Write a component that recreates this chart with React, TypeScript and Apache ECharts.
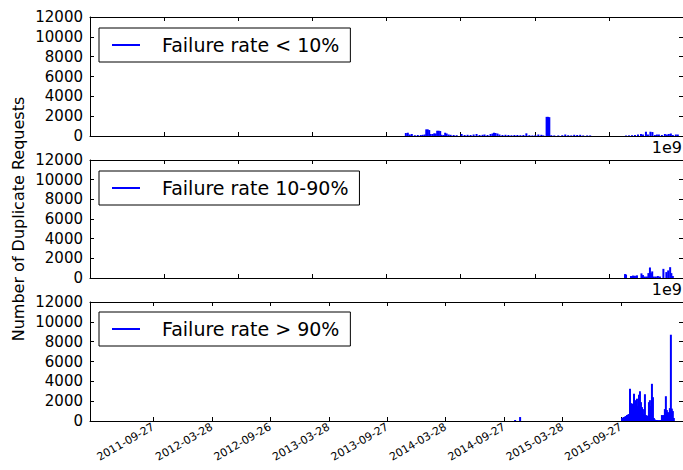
import React, { useEffect, useRef } from "react";
import * as echarts from "echarts";

// ---- data (times in millions of epoch seconds) ----
const seriesNames = ["Failure rate < 10%", "Failure rate 10-90%", "Failure rate > 90%"];

const xMinSec = 1.3e9;
const xMaxSec = 1.46e9;
const xStepSec = 0.02e9;
const yMax = 12000;
const yStep = 2000;

const dateTicks = [
  "2011-09-27", "2012-03-28", "2012-09-26", "2013-03-28", "2013-09-27",
  "2014-03-28", "2014-09-27", "2015-03-28", "2015-09-27",
];

const lowTimes = [
  1385.22, 1385.75, 1386.29, 1386.83, 1387.64, 1388.44, 1389.25, 1389.79, 1390.32, 1390.73,
  1391.13, 1391.53, 1391.94, 1392.47, 1392.88, 1393.28, 1393.68, 1394.09, 1394.49, 1394.89,
  1395.43, 1395.83, 1396.24, 1396.78, 1397.31, 1398.12, 1398.93, 1400.27, 1401.08, 1401.88,
  1402.69, 1403.5, 1404.3, 1405.11, 1405.91, 1406.45, 1407.26, 1408.07, 1408.6, 1409.01,
  1409.41, 1409.95, 1410.49, 1411.29, 1412.1, 1412.9, 1413.71, 1414.52, 1415.32, 1416.13,
  1416.94, 1417.74, 1418.55, 1419.36, 1420.16, 1420.97, 1421.78, 1422.31, 1423.2, 1423.58,
  1423.93, 1424.46, 1425.27, 1426.35, 1427.42, 1428.23, 1429.03, 1429.84, 1430.65, 1431.45,
  1432.26, 1433.07, 1434.14, 1434.95, 1444.63, 1445.43, 1446.24, 1447.04, 1447.85, 1448.66,
  1449.2, 1450.0, 1450.54, 1451.21, 1451.75, 1452.42, 1452.96, 1453.5, 1454.3, 1455.11,
  1455.65, 1456.18, 1456.72, 1457.26, 1458.07, 1458.6,
];
const lowCounts = [
  300, 330, 150, 200, 80, 100, 100, 120, 150, 670,
  670, 600, 200, 200, 270, 250, 530, 530, 500, 120,
  100, 330, 250, 150, 120, 100, 80, 200, 100, 120,
  100, 150, 200, 100, 120, 150, 100, 200, 250, 330,
  300, 250, 150, 100, 120, 100, 80, 100, 100, 80,
  100, 270, 80, 60, 80, 150, 120, 60, 1930, 1930,
  1900, 80, 60, 60, 80, 150, 80, 60, 120, 100,
  120, 60, 60, 60, 50, 60, 80, 100, 150, 200,
  150, 430, 150, 430, 400, 100, 150, 150, 100, 200,
  150, 200, 250, 100, 150, 150,
];

const midTimes = [
  1444.36, 1444.63, 1445.97, 1446.51, 1447.04, 1447.58, 1448.79, 1449.2, 1449.73, 1450.27,
  1450.67, 1451.08, 1451.35, 1451.69, 1452.15, 1452.69, 1453.23, 1453.77, 1454.71, 1455.51,
  1456.0, 1456.53, 1456.86, 1457.26,
];
const midCounts = [
  400, 350, 200, 250, 230, 270, 470, 300, 150, 150,
  500, 1070, 500, 670, 150, 150, 200, 150, 930, 600,
  770, 1100, 500, 200,
];

const highTimes = [
  1414.7, 1416.05,
  1443.55, 1443.82, 1444.09, 1444.36, 1444.63, 1444.89, 1445.16, 1445.43, 1445.7, 1445.97,
  1446.24, 1446.51, 1446.78, 1447.05, 1447.31, 1447.58, 1447.85, 1448.12, 1448.39, 1448.66,
  1448.93, 1449.2, 1449.47, 1449.73, 1450.0, 1450.27, 1450.54, 1450.81, 1451.08, 1451.35,
  1451.62, 1451.89, 1452.15, 1452.42, 1452.69, 1452.96, 1453.23, 1453.5, 1453.77, 1454.04,
  1454.31, 1454.57, 1454.84, 1455.11, 1455.38, 1455.65, 1455.92, 1456.19, 1456.46, 1456.73,
  1456.99, 1457.26, 1457.53,
];
const highCounts = [
  100, 400,
  300, 350, 400, 450, 500, 600, 650, 700, 3250, 1800,
  1500, 1750, 2750, 1900, 2100, 2250, 1500, 2650, 3000, 1900,
  1400, 1200, 700, 2700, 600, 500, 550, 1900, 2100, 1500,
  3750, 2400, 300, 150, 100, 100, 80, 80, 80, 100,
  600, 550, 600, 1200, 2500, 1100, 900, 800, 1300, 8700,
  1250, 1000, 300,
];

const allTimes = [lowTimes, midTimes, highTimes];
const allCounts = [lowCounts, midCounts, highCounts];

// ---- layout ----
const grids = [
  { top: 17, height: 119 },
  { top: 160, height: 118 },
  { top: 302, height: 119 },
];
const FONT = "DejaVu Sans";

export default function App() {
  const ref = useRef<HTMLDivElement>(null);

  useEffect(() => {
    if (!ref.current) return;
    const chart = echarts.init(ref.current, undefined, { renderer: "svg" });

    const dateSecs = dateTicks.map((d) => Date.parse(d + "T00:00:00Z") / 1000);
    const fmtDate = (v: number) => new Date(Math.round(v) * 1000).toISOString().slice(0, 10);

    const axisLine = { show: true, onZero: false, lineStyle: { color: "#000", width: 1 } };
    const tick = { show: true, inside: true, length: 4, lineStyle: { color: "#000", width: 1 } };

    const xAxis: any[] = [];
    const yAxis: any[] = [];
    grids.forEach((_, i) => {
      const isBottom = i === 2;
      const base: any = {
        type: "value",
        gridIndex: i,
        min: xMinSec,
        max: xMaxSec,
        axisLine,
        splitLine: { show: false },
      };
      if (isBottom) {
        xAxis.push({
          ...base,
          position: "bottom",
          axisTick: { ...tick, customValues: dateSecs },
          axisLabel: {
            show: true,
            customValues: dateSecs,
            formatter: (v: number) => fmtDate(v),
            rotate: 30,
            fontSize: 11,
            fontFamily: FONT,
            color: "#000",
            margin: 5,
          },
        });
        xAxis.push({
          ...base,
          position: "top",
          axisTick: { ...tick, customValues: dateSecs },
          axisLabel: { show: false, customValues: dateSecs },
        });
      } else {
        xAxis.push({ ...base, interval: xStepSec, position: "bottom", axisTick: tick, axisLabel: { show: false } });
        xAxis.push({ ...base, interval: xStepSec, position: "top", axisTick: tick, axisLabel: { show: false } });
      }
      const yBase: any = {
        type: "value",
        gridIndex: i,
        min: 0,
        max: yMax,
        interval: yStep,
        axisLine,
        axisTick: tick,
        splitLine: { show: false },
      };
      yAxis.push({
        ...yBase,
        position: "left",
        axisLabel: {
          show: true,
          fontSize: 15,
          fontFamily: FONT,
          color: "#000",
          margin: 7,
          formatter: (v: number) => String(v),
        },
      });
      yAxis.push({ ...yBase, position: "right", axisLabel: { show: false } });
    });

    const series = seriesNames.map((name, i) => ({
      type: "bar",
      name,
      xAxisIndex: 2 * i,
      yAxisIndex: 2 * i,
      barWidth: 2,
      itemStyle: { color: "#0000ff" },
      data: allTimes[i].map((t, k) => [t * 1e6, allCounts[i][k]]),
    }));

    const legend = seriesNames.map((name, i) => ({
      data: [name],
      left: 99,
      top: grids[i].top + (i === 2 ? 10 : 11),
      orient: "horizontal",
      icon: "rect",
      itemWidth: 28,
      itemHeight: 2,
      padding: [7, 11, 7, 13],
      backgroundColor: "#fff",
      borderColor: "#000",
      borderWidth: 1,
      borderRadius: 0,
      selectedMode: false,
      textStyle: {
        fontSize: 19,
        fontFamily: FONT,
        color: "#000",
        lineHeight: 20,
        padding: [0, 0, 0, 17],
      },
    }));

    chart.setOption({
      animation: false,
      backgroundColor: "#fff",
      grid: grids.map((g) => ({ left: 90, width: 595, top: g.top, height: g.height, show: false })),
      xAxis,
      yAxis,
      series,
      legend,
      graphic: [
        {
          type: "text",
          x: 18,
          y: 219,
          rotation: Math.PI / 2,
          style: {
            text: "Number of Duplicate Requests",
            fontSize: 16,
            fontFamily: FONT,
            fill: "#000",
            align: "center",
            verticalAlign: "middle",
          },
        },
        {
          type: "text",
          x: 682,
          y: 147,
          style: { text: "1e9", fontSize: 16, fontFamily: FONT, fill: "#000", align: "right", verticalAlign: "middle" },
        },
        {
          type: "text",
          x: 682,
          y: 289,
          style: { text: "1e9", fontSize: 16, fontFamily: FONT, fill: "#000", align: "right", verticalAlign: "middle" },
        },
      ],
    });

    return () => chart.dispose();
  }, []);

  return (
    <div
      ref={ref}
      style={{ position: "fixed", left: 0, top: 0, width: 683, height: 470, background: "#fff" }}
    />
  );
}
